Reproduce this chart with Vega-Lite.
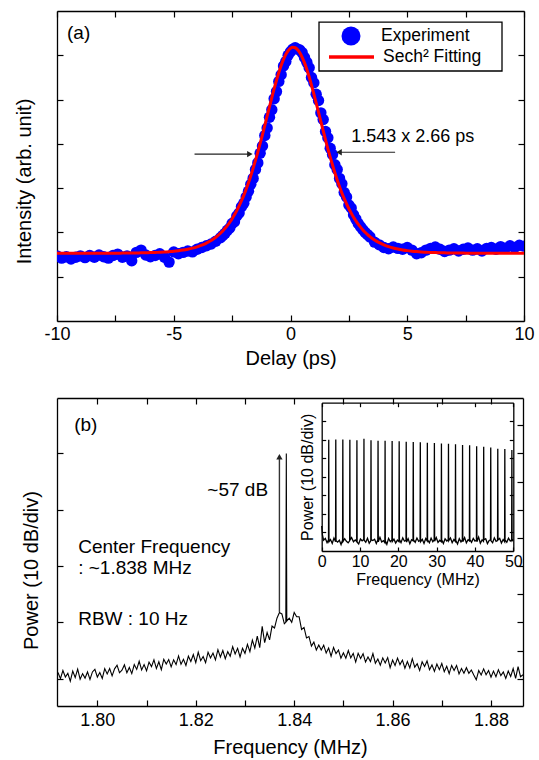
{
  "$schema": "https://vega.github.io/schema/vega-lite/v6.json",
  "padding": {"left": 14, "top": 10, "right": 6, "bottom": 0},
  "spacing": 29,
  "config": {
    "font": "Liberation Sans",
    "view": {"stroke": null},
    "axis": {"grid": false, "domainColor": "#000", "domainWidth": 1.3, "tickColor": "#000", "tickWidth": 1.2, "tickSize": -6, "labelColor": "#000", "titleColor": "#000", "labelFontSize": 18, "titleFontSize": 20, "titleFontWeight": "normal", "labelFlush": false, "labelOverlap": false, "labelFont": "Liberation Sans", "titleFont": "Liberation Sans"}
  },
  "datasets": {
    "pulse": [
      {"t":-10,"e":1.47,"f":1.530},{"t":-9.8,"e":1.42,"f":1.530},{"t":-9.6,"e":1.45,"f":1.530},{"t":-9.4,"e":1.40,"f":1.530},{"t":-9.2,"e":1.44,"f":1.530},{"t":-9.0,"e":1.47,"f":1.530},{"t":-8.8,"e":1.43,"f":1.530},{"t":-8.6,"e":1.48,"f":1.530},{"t":-8.4,"e":1.44,"f":1.530},{"t":-8.2,"e":1.49,"f":1.530},{"t":-8.0,"e":1.45,"f":1.530},{"t":-7.8,"e":1.42,"f":1.530},{"t":-7.6,"e":1.48,"f":1.531},{"t":-7.4,"e":1.51,"f":1.531},{"t":-7.2,"e":1.44,"f":1.533},{"t":-7.0,"e":1.47,"f":1.534},{"t":-6.8,"e":1.36,"f":1.535},{"t":-6.6,"e":1.55,"f":1.537},{"t":-6.4,"e":1.60,"f":1.539},{"t":-6.2,"e":1.49,"f":1.541},{"t":-6.0,"e":1.45,"f":1.544},{"t":-5.8,"e":1.48,"f":1.548},{"t":-5.6,"e":1.52,"f":1.552},{"t":-5.4,"e":1.44,"f":1.558},{"t":-5.2,"e":1.33,"f":1.566},{"t":-5.0,"e":1.56,"f":1.575},{"t":-4.8,"e":1.52,"f":1.587},{"t":-4.6,"e":1.55,"f":1.602},{"t":-4.4,"e":1.58,"f":1.621},{"t":-4.2,"e":1.56,"f":1.645},{"t":-4.0,"e":1.62,"f":1.675},{"t":-3.8,"e":1.66,"f":1.712},{"t":-3.6,"e":1.70,"f":1.760},{"t":-3.4,"e":1.74,"f":1.816},{"t":-3.2,"e":1.80,"f":1.890},
      {"t":-3.0,"e":1.88,"f":1.981},{"t":-2.9,"e":1.93,"f":2.034},{"t":-2.8,"e":1.98,"f":2.095},{"t":-2.7,"e":2.05,"f":2.158},{"t":-2.6,"e":2.10,"f":2.230},{"t":-2.5,"e":2.20,"f":2.310},{"t":-2.4,"e":2.24,"f":2.401},{"t":-2.3,"e":2.37,"f":2.493},{"t":-2.2,"e":2.44,"f":2.598},{"t":-2.1,"e":2.58,"f":2.715},{"t":-2.0,"e":2.66,"f":2.837},{"t":-1.9,"e":2.80,"f":2.976},{"t":-1.8,"e":2.93,"f":3.120},{"t":-1.7,"e":3.09,"f":3.280},{"t":-1.6,"e":3.22,"f":3.451},{"t":-1.5,"e":3.42,"f":3.627},{"t":-1.4,"e":3.57,"f":3.813},{"t":-1.3,"e":3.79,"f":4.011},{"t":-1.2,"e":3.95,"f":4.211},{"t":-1.1,"e":4.19,"f":4.418},{"t":-1.0,"e":4.36,"f":4.629},{"t":-0.9,"e":4.60,"f":4.839},{"t":-0.8,"e":4.77,"f":5.046},{"t":-0.7,"e":5.02,"f":5.247},{"t":-0.6,"e":5.18,"f":5.436},{"t":-0.5,"e":5.41,"f":5.612},{"t":-0.4,"e":5.56,"f":5.771},{"t":-0.3,"e":5.76,"f":5.907},{"t":-0.2,"e":5.86,"f":6.020},{"t":-0.1,"e":6.00,"f":6.103},{"t":0.0,"e":6.08,"f":6.157},{"t":0.1,"e":6.14,"f":6.179},{"t":0.2,"e":6.17,"f":6.170},{"t":0.3,"e":6.14,"f":6.128},{"t":0.4,"e":6.12,"f":6.056},{"t":0.5,"e":6.06,"f":5.955},{"t":0.6,"e":5.95,"f":5.829},{"t":0.7,"e":5.84,"f":5.679},{"t":0.8,"e":5.72,"f":5.509},{"t":0.9,"e":5.50,"f":5.322},{"t":1.0,"e":5.38,"f":5.127},{"t":1.1,"e":5.12,"f":4.919},{"t":1.2,"e":4.98,"f":4.714},{"t":1.3,"e":4.70,"f":4.503},{"t":1.4,"e":4.55,"f":4.299},{"t":1.5,"e":4.28,"f":4.089},{"t":1.6,"e":4.14,"f":3.889},{"t":1.7,"e":3.90,"f":3.701},{"t":1.8,"e":3.76,"f":3.522},{"t":1.9,"e":3.53,"f":3.346},{"t":2.0,"e":3.42,"f":3.185},{"t":2.1,"e":3.22,"f":3.033},{"t":2.2,"e":3.10,"f":2.892},{"t":2.3,"e":2.90,"f":2.764},{"t":2.4,"e":2.80,"f":2.647},{"t":2.5,"e":2.62,"f":2.535},{"t":2.6,"e":2.55,"f":2.436},{"t":2.7,"e":2.40,"f":2.343},{"t":2.8,"e":2.30,"f":2.262},{"t":2.9,"e":2.20,"f":2.186},{"t":3.0,"e":2.13,"f":2.119},{"t":3.1,"e":2.06,"f":2.056},{"t":3.2,"e":2.00,"f":2.002},{"t":3.3,"e":1.95,"f":1.951},{"t":3.4,"e":1.90,"f":1.907},
      {"t":3.6,"e":1.78,"f":1.830},{"t":3.8,"e":1.72,"f":1.769},{"t":4.0,"e":1.66,"f":1.721},{"t":4.2,"e":1.63,"f":1.681},{"t":4.4,"e":1.67,"f":1.649},{"t":4.6,"e":1.64,"f":1.625},{"t":4.8,"e":1.62,"f":1.605},{"t":5.0,"e":1.66,"f":1.589},{"t":5.2,"e":1.60,"f":1.577},{"t":5.4,"e":1.52,"f":1.567},{"t":5.6,"e":1.54,"f":1.559},{"t":5.8,"e":1.60,"f":1.553},{"t":6.0,"e":1.64,"f":1.548},{"t":6.2,"e":1.67,"f":1.544},{"t":6.4,"e":1.62,"f":1.541},{"t":6.6,"e":1.57,"f":1.539},{"t":6.8,"e":1.60,"f":1.537},{"t":7.0,"e":1.63,"f":1.535},{"t":7.2,"e":1.58,"f":1.534},{"t":7.4,"e":1.62,"f":1.533},{"t":7.6,"e":1.65,"f":1.532},{"t":7.8,"e":1.60,"f":1.532},{"t":8.0,"e":1.63,"f":1.532},{"t":8.2,"e":1.58,"f":1.532},{"t":8.4,"e":1.64,"f":1.532},{"t":8.6,"e":1.66,"f":1.532},{"t":8.8,"e":1.62,"f":1.532},{"t":9.0,"e":1.68,"f":1.532},{"t":9.2,"e":1.64,"f":1.532},{"t":9.4,"e":1.70,"f":1.532},{"t":9.6,"e":1.66,"f":1.532},{"t":9.8,"e":1.71,"f":1.532},{"t":10.0,"e":1.69,"f":1.532}
    ],
    "spec": [
      {"f":1.7920,"p":1.22},{"f":1.7925,"p":1.00},{"f":1.7930,"p":1.29},{"f":1.7935,"p":1.06},{"f":1.7940,"p":1.19},{"f":1.7945,"p":0.91},{"f":1.7950,"p":1.27},{"f":1.7955,"p":1.04},{"f":1.7960,"p":1.34},{"f":1.7965,"p":0.98},{"f":1.7970,"p":1.18},{"f":1.7975,"p":1.02},{"f":1.7980,"p":1.24},{"f":1.7985,"p":0.97},{"f":1.7990,"p":1.24},{"f":1.7995,"p":1.33},{"f":1.8000,"p":1.06},
      {"f":1.8005,"p":1.22},{"f":1.8010,"p":1.01},{"f":1.8015,"p":1.36},{"f":1.8020,"p":1.17},{"f":1.8025,"p":1.36},{"f":1.8030,"p":1.10},{"f":1.8035,"p":1.35},{"f":1.8040,"p":1.48},{"f":1.8045,"p":1.21},{"f":1.8050,"p":1.30},{"f":1.8055,"p":1.49},{"f":1.8060,"p":1.21},{"f":1.8065,"p":1.40},{"f":1.8070,"p":1.18},{"f":1.8075,"p":1.50},{"f":1.8080,"p":1.33},{"f":1.8085,"p":1.62},{"f":1.8090,"p":1.31},{"f":1.8095,"p":1.50},{"f":1.8100,"p":1.28},
      {"f":1.8105,"p":1.59},{"f":1.8110,"p":1.43},{"f":1.8115,"p":1.67},{"f":1.8120,"p":1.36},{"f":1.8125,"p":1.60},{"f":1.8130,"p":1.32},{"f":1.8135,"p":1.69},{"f":1.8140,"p":1.52},{"f":1.8145,"p":1.68},{"f":1.8150,"p":1.42},{"f":1.8155,"p":1.67},{"f":1.8160,"p":1.50},{"f":1.8165,"p":1.81},{"f":1.8170,"p":1.51},{"f":1.8175,"p":1.69},{"f":1.8180,"p":1.47},{"f":1.8185,"p":1.80},{"f":1.8190,"p":1.61},{"f":1.8195,"p":1.86},{"f":1.8200,"p":1.57},
      {"f":1.8205,"p":1.94},{"f":1.8210,"p":1.64},{"f":1.8215,"p":1.79},{"f":1.8220,"p":1.57},{"f":1.8225,"p":1.94},{"f":1.8230,"p":1.74},{"f":1.8235,"p":1.91},{"f":1.8240,"p":1.67},{"f":1.8245,"p":2.03},{"f":1.8250,"p":1.77},{"f":1.8255,"p":2.00},{"f":1.8260,"p":1.71},{"f":1.8265,"p":1.96},{"f":1.8270,"p":1.80},{"f":1.8275,"p":2.14},{"f":1.8280,"p":1.88},{"f":1.8285,"p":2.08},{"f":1.8290,"p":1.77},{"f":1.8295,"p":2.08},{"f":1.8300,"p":1.90},
      {"f":1.8305,"p":2.22},{"f":1.8310,"p":1.96},{"f":1.8315,"p":2.37},{"f":1.8320,"p":2.09},{"f":1.8325,"p":2.51},{"f":1.8330,"p":2.10},{"f":1.8335,"p":2.86},{"f":1.8340,"p":2.28},{"f":1.8345,"p":2.64},{"f":1.8350,"p":2.38},{"f":1.8355,"p":2.87},{"f":1.8360,"p":2.80},{"f":1.8365,"p":3.15},{"f":1.8370,"p":3.35},{"f":1.8375,"p":3.30},{"f":1.8380,"p":2.95},{"f":1.8383,"p":3.00},{"f":1.8384,"p":9.00},{"f":1.8385,"p":3.05},{"f":1.8390,"p":3.15},{"f":1.8395,"p":3.00},{"f":1.8400,"p":3.35},{"f":1.8405,"p":3.20},{"f":1.8410,"p":3.20},{"f":1.8415,"p":2.75},{"f":1.8420,"p":2.82},{"f":1.8425,"p":2.45},{"f":1.8430,"p":2.50},{"f":1.8435,"p":2.16},{"f":1.8440,"p":2.30},{"f":1.8445,"p":2.02},{"f":1.8450,"p":2.20},
      {"f":1.8455,"p":2.02},{"f":1.8460,"p":2.19},{"f":1.8465,"p":1.91},{"f":1.8470,"p":2.09},{"f":1.8475,"p":1.80},{"f":1.8480,"p":2.11},{"f":1.8485,"p":1.89},{"f":1.8490,"p":2.02},{"f":1.8495,"p":1.73},{"f":1.8500,"p":1.92},
      {"f":1.8505,"p":1.73},{"f":1.8510,"p":2.00},{"f":1.8515,"p":1.74},{"f":1.8520,"p":1.90},{"f":1.8525,"p":1.59},{"f":1.8530,"p":1.90},{"f":1.8535,"p":1.72},{"f":1.8540,"p":1.89},{"f":1.8545,"p":1.59},{"f":1.8550,"p":1.77},{"f":1.8555,"p":1.61},{"f":1.8560,"p":1.89},{"f":1.8565,"p":1.55},{"f":1.8570,"p":1.70},{"f":1.8575,"p":1.48},{"f":1.8580,"p":1.74},{"f":1.8585,"p":1.56},{"f":1.8590,"p":1.75},{"f":1.8595,"p":1.39},{"f":1.8600,"p":1.66},
      {"f":1.8605,"p":1.47},{"f":1.8610,"p":1.73},{"f":1.8615,"p":1.50},{"f":1.8620,"p":1.66},{"f":1.8625,"p":1.37},{"f":1.8630,"p":1.61},{"f":1.8635,"p":1.38},{"f":1.8640,"p":1.71},{"f":1.8645,"p":1.41},{"f":1.8650,"p":1.53},{"f":1.8655,"p":1.29},{"f":1.8660,"p":1.60},{"f":1.8665,"p":1.43},{"f":1.8670,"p":1.63},{"f":1.8675,"p":1.32},{"f":1.8680,"p":1.49},{"f":1.8685,"p":1.26},{"f":1.8690,"p":1.52},{"f":1.8695,"p":1.32},{"f":1.8700,"p":1.54},
      {"f":1.8705,"p":1.25},{"f":1.8710,"p":1.44},{"f":1.8715,"p":1.18},{"f":1.8720,"p":1.47},{"f":1.8725,"p":1.29},{"f":1.8730,"p":1.47},{"f":1.8735,"p":1.17},{"f":1.8740,"p":1.36},{"f":1.8745,"p":1.19},{"f":1.8750,"p":1.39},{"f":1.8755,"p":1.19},{"f":1.8760,"p":1.31},{"f":1.8765,"p":1.13},{"f":1.8770,"p":0.96},{"f":1.8775,"p":1.29},{"f":1.8780,"p":1.13},{"f":1.8785,"p":1.35},{"f":1.8790,"p":1.14},{"f":1.8795,"p":1.29},{"f":1.8800,"p":1.05},
      {"f":1.8805,"p":1.27},{"f":1.8810,"p":1.07},{"f":1.8815,"p":1.32},{"f":1.8820,"p":1.11},{"f":1.8825,"p":1.24},{"f":1.8830,"p":1.01},{"f":1.8835,"p":1.27},{"f":1.8840,"p":1.08},{"f":1.8845,"p":1.36},{"f":1.8850,"p":1.01},{"f":1.8855,"p":1.43},{"f":1.8860,"p":1.07},{"f":1.8865,"p":1.14}
    ],
    "inset": [
      {"f":0,"p":1.35},{"f":0.2,"p":0.85},{"f":0.5,"p":0.58},{"f":0.95,"p":0.68},{"f":1.4,"p":0.45},
      {"f":1.78,"p":0.6},{"f":1.838,"p":6.0},{"f":1.9,"p":0.5},{"f":2.3,"p":0.62},{"f":2.75,"p":0.41},{"f":3.2,"p":0.70},
      {"f":3.62,"p":0.5},{"f":3.676,"p":6.02},{"f":3.74,"p":0.55},{"f":4.15,"p":0.48},{"f":4.6,"p":0.58},{"f":5.05,"p":0.35},
      {"f":5.45,"p":0.6},{"f":5.514,"p":6.01},{"f":5.58,"p":0.52},{"f":6.0,"p":0.66},{"f":6.45,"p":0.52},{"f":6.9,"p":0.44},
      {"f":7.29,"p":0.55},{"f":7.352,"p":6.0},{"f":7.41,"p":0.6},{"f":7.8,"p":0.72},{"f":8.3,"p":0.50},{"f":8.75,"p":0.60},
      {"f":9.13,"p":0.5},{"f":9.19,"p":5.98},{"f":9.25,"p":0.48},{"f":9.65,"p":0.38},{"f":10.1,"p":0.65},{"f":10.55,"p":0.55},
      {"f":10.97,"p":0.62},{"f":11.028,"p":6.05},{"f":11.09,"p":0.58},{"f":11.5,"p":0.47},{"f":11.95,"p":0.69},{"f":12.4,"p":0.42},
      {"f":12.81,"p":0.55},{"f":12.866,"p":5.97},{"f":12.93,"p":0.6},{"f":13.35,"p":0.57},{"f":13.8,"p":0.63},{"f":14.25,"p":0.40},
      {"f":14.64,"p":0.6},{"f":14.704,"p":5.95},{"f":14.77,"p":0.5},{"f":15.2,"p":0.74},{"f":15.65,"p":0.49},{"f":16.1,"p":0.56},
      {"f":16.48,"p":0.45},{"f":16.542,"p":5.95},{"f":16.6,"p":0.55},{"f":17.0,"p":0.36},{"f":17.45,"p":0.68},{"f":17.9,"p":0.51},
      {"f":18.32,"p":0.6},{"f":18.38,"p":5.93},{"f":18.44,"p":0.52},{"f":18.85,"p":0.64},{"f":19.3,"p":0.43},{"f":19.75,"p":0.59},
      {"f":20.16,"p":0.5},{"f":20.218,"p":5.92},{"f":20.28,"p":0.62},{"f":20.7,"p":0.45},{"f":21.15,"p":0.71},{"f":21.6,"p":0.53},
      {"f":22.0,"p":0.58},{"f":22.056,"p":5.9},{"f":22.12,"p":0.48},{"f":22.55,"p":0.66},{"f":23.0,"p":0.39},{"f":23.45,"p":0.61},
      {"f":23.83,"p":0.55},{"f":23.894,"p":5.88},{"f":23.96,"p":0.6},{"f":24.4,"p":0.47},{"f":24.85,"p":0.70},{"f":25.3,"p":0.52},
      {"f":25.67,"p":0.57},{"f":25.732,"p":5.86},{"f":25.8,"p":0.5},{"f":26.25,"p":0.63},{"f":26.7,"p":0.41},{"f":27.15,"p":0.67},
      {"f":27.51,"p":0.55},{"f":27.57,"p":5.84},{"f":27.63,"p":0.6},{"f":28.1,"p":0.44},{"f":28.55,"p":0.69},{"f":29.0,"p":0.50},
      {"f":29.35,"p":0.6},{"f":29.408,"p":5.82},{"f":29.47,"p":0.52},{"f":29.9,"p":0.73},{"f":30.35,"p":0.46},{"f":30.8,"p":0.58},
      {"f":31.19,"p":0.5},{"f":31.246,"p":5.8},{"f":31.31,"p":0.6},{"f":31.75,"p":0.40},{"f":32.2,"p":0.66},{"f":32.65,"p":0.54},
      {"f":33.02,"p":0.6},{"f":33.084,"p":5.78},{"f":33.15,"p":0.55},{"f":33.6,"p":0.70},{"f":34.05,"p":0.45},{"f":34.5,"p":0.62},
      {"f":34.86,"p":0.52},{"f":34.922,"p":5.76},{"f":34.98,"p":0.58},{"f":35.45,"p":0.38},{"f":35.9,"p":0.67},{"f":36.35,"p":0.49},
      {"f":36.7,"p":0.6},{"f":36.76,"p":5.72},{"f":36.82,"p":0.5},{"f":37.3,"p":0.72},{"f":37.75,"p":0.44},{"f":38.2,"p":0.61},
      {"f":38.54,"p":0.55},{"f":38.598,"p":5.7},{"f":38.66,"p":0.62},{"f":39.1,"p":0.47},{"f":39.55,"p":0.68},{"f":40.0,"p":0.53},
      {"f":40.38,"p":0.58},{"f":40.436,"p":5.65},{"f":40.5,"p":0.5},{"f":40.95,"p":0.75},{"f":41.4,"p":0.42},{"f":41.85,"p":0.60},
      {"f":42.21,"p":0.52},{"f":42.274,"p":5.62},{"f":42.34,"p":0.6},{"f":42.8,"p":0.66},{"f":43.25,"p":0.40},{"f":43.7,"p":0.57},
      {"f":44.05,"p":0.6},{"f":44.112,"p":5.58},{"f":44.18,"p":0.55},{"f":44.6,"p":0.45},{"f":45.05,"p":0.71},{"f":45.5,"p":0.52},
      {"f":45.89,"p":0.56},{"f":45.95,"p":5.52},{"f":46.01,"p":0.6},{"f":46.45,"p":0.68},{"f":46.9,"p":0.43},{"f":47.35,"p":0.62},
      {"f":47.73,"p":0.5},{"f":47.788,"p":5.5},{"f":47.85,"p":0.58},{"f":48.3,"p":0.47},{"f":48.75,"p":0.69},{"f":49.2,"p":0.54},
      {"f":49.57,"p":0.6},{"f":49.626,"p":5.45},{"f":49.69,"p":0.55},{"f":50.0,"p":0.62}
    ]
  },
  "vconcat": [
    {
      "width": 467,
      "height": 310,
      "resolve": {"scale": {"x": "independent", "y": "independent"}},
      "layer": [
        {
          "layer": [
            {
              "data": {"name": "pulse"},
              "mark": {"type": "point", "filled": true, "size": 130, "opacity": 1, "clip": true, "color": "#0000ff"},
              "encoding": {
                "x": {"field": "t", "type": "quantitative", "scale": {"domain": [-10, 10], "nice": false, "zero": false},
                  "axis": {"values": [-10, -7.5, -5, -2.5, 0, 2.5, 5, 7.5, 10], "labelExpr": "datum.value % 5 === 0 ? toString(datum.value) : ''", "title": "Delay (ps)", "labelPadding": 10.5, "titlePadding": 4.5}},
                "y": {"field": "e", "type": "quantitative", "scale": {"domain": [0, 7], "nice": false, "zero": false},
                  "axis": {"values": [1, 2, 3, 4, 5, 6], "labels": false, "title": "Intensity (arb. unit)", "titlePadding": 22, "titleY": 170}}
              }
            },
            {
              "data": {"name": "pulse"},
              "mark": {"type": "line", "strokeWidth": 3, "interpolate": "monotone", "clip": true, "color": "#ff0000"},
              "encoding": {
                "x": {"field": "t", "type": "quantitative"},
                "y": {"field": "f", "type": "quantitative"}
              }
            },
            {
              "data": {"values": [{}]},
              "mark": {"type": "rule", "color": "#222", "strokeWidth": 1.2},
              "encoding": {"x": {"datum": -4.11}, "x2": {"datum": -1.74}, "y": {"datum": 3.77}}
            },
            {
              "data": {"values": [{}]},
              "mark": {"type": "point", "shape": "triangle-right", "filled": true, "color": "#222", "size": 40, "opacity": 1},
              "encoding": {"x": {"datum": -1.74}, "y": {"datum": 3.77}}
            },
            {
              "data": {"values": [{}]},
              "mark": {"type": "rule", "color": "#222", "strokeWidth": 1.2},
              "encoding": {"x": {"datum": 4.48}, "x2": {"datum": 2.08}, "y": {"datum": 3.81}}
            },
            {
              "data": {"values": [{}]},
              "mark": {"type": "point", "shape": "triangle-left", "filled": true, "color": "#222", "size": 40, "opacity": 1},
              "encoding": {"x": {"datum": 2.08}, "y": {"datum": 3.81}}
            },
            {
              "data": {"values": [{}]},
              "mark": {"type": "text", "align": "left", "baseline": "middle", "fontSize": 18, "color": "#000"},
              "encoding": {"x": {"datum": 2.6}, "y": {"datum": 4.15}, "text": {"value": "1.543 x 2.66 ps"}}
            },
            {
              "data": {"values": [{}]},
              "mark": {"type": "text", "align": "left", "baseline": "middle", "fontSize": 19, "color": "#000"},
              "encoding": {"x": {"datum": -9.57}, "y": {"datum": 6.5}, "text": {"value": "(a)"}}
            },
            {
              "data": {"values": [{}]},
              "mark": {"type": "rect", "fill": "#ffffff", "stroke": "#000", "strokeWidth": 1.3},
              "encoding": {"x": {"datum": 1.221}, "x2": {"datum": 9.058}, "y": {"datum": 6.751}, "y2": {"datum": 5.645}}
            },
            {
              "data": {"values": [{}]},
              "mark": {"type": "point", "shape": "circle", "filled": true, "color": "#0000ff", "size": 361, "opacity": 1},
              "encoding": {"x": {"datum": 2.591}, "y": {"datum": 6.435}}
            },
            {
              "data": {"values": [{}]},
              "mark": {"type": "rule", "color": "#ff0000", "strokeWidth": 3.5},
              "encoding": {"x": {"datum": 1.649}, "x2": {"datum": 3.576}, "y": {"datum": 5.961}}
            },
            {
              "data": {"values": [{}]},
              "mark": {"type": "text", "align": "left", "baseline": "middle", "fontSize": 17.5, "color": "#000"},
              "encoding": {"x": {"datum": 3.876}, "y": {"datum": 6.435}, "text": {"value": "Experiment"}}
            },
            {
              "data": {"values": [{}]},
              "mark": {"type": "text", "align": "left", "baseline": "middle", "fontSize": 17.5, "color": "#000"},
              "encoding": {"x": {"datum": 3.961}, "y": {"datum": 5.961}, "text": {"value": "Sech² Fitting"}}
            }
          ]
        },
        {
          "data": {"values": [{}]},
          "mark": {"type": "point", "opacity": 0},
          "encoding": {
            "x": {"datum": 0, "type": "quantitative", "scale": {"domain": [-10, 10], "nice": false, "zero": false},
              "axis": {"orient": "top", "values": [-10, -7.5, -5, -2.5, 0, 2.5, 5, 7.5, 10], "labels": false, "title": null}},
            "y": {"datum": 3, "type": "quantitative", "scale": {"domain": [0, 7], "nice": false, "zero": false},
              "axis": {"orient": "right", "values": [1, 2, 3, 4, 5, 6], "labels": false, "title": null}}
          }
        }
      ]
    },
    {
      "width": 466,
      "height": 308,
      "resolve": {"scale": {"x": "independent", "y": "independent"}},
      "layer": [
        {
          "layer": [
            {
              "data": {"name": "spec"},
              "mark": {"type": "line", "color": "#000", "strokeWidth": 1.1, "clip": true},
              "encoding": {
                "x": {"field": "f", "type": "quantitative", "scale": {"domain": [1.7918, 1.8865], "nice": false, "zero": false},
                  "axis": {"values": [1.80, 1.81, 1.82, 1.83, 1.84, 1.85, 1.86, 1.87, 1.88], "labelExpr": "round(datum.value * 100) % 2 === 0 ? format(datum.value, '.2f') : ''", "title": "Frequency (MHz)", "labelPadding": 11.5, "titlePadding": 8}},
                "y": {"field": "p", "type": "quantitative", "scale": {"domain": [0.03, 10.97], "nice": false, "zero": false},
                  "axis": {"values": [1, 2, 3, 4, 5, 6, 7, 8, 9, 10], "labels": false, "title": "Power (10 dB/div)", "titlePadding": 15, "titleY": 172}}
              }
            },
            {
              "data": {"values": [{}]},
              "mark": {"type": "rule", "color": "#333", "strokeWidth": 1.4},
              "encoding": {"x": {"datum": 1.837}, "y": {"datum": 3.37}, "y2": {"datum": 8.8}}
            },
            {
              "data": {"values": [{}]},
              "mark": {"type": "point", "shape": "triangle-up", "filled": true, "color": "#222", "size": 40, "opacity": 1},
              "encoding": {"x": {"datum": 1.837}, "y": {"datum": 8.88}}
            },
            {
              "data": {"values": [{}]},
              "mark": {"type": "text", "align": "left", "baseline": "middle", "fontSize": 19, "color": "#000"},
              "encoding": {"x": {"datum": 1.7953}, "y": {"datum": 10.0}, "text": {"value": "(b)"}}
            },
            {
              "data": {"values": [{}]},
              "mark": {"type": "text", "align": "right", "baseline": "middle", "fontSize": 19, "color": "#000"},
              "encoding": {"x": {"datum": 1.8347}, "y": {"datum": 7.69}, "text": {"value": "~57 dB"}}
            },
            {
              "data": {"values": [{}]},
              "mark": {"type": "text", "align": "left", "baseline": "middle", "fontSize": 19, "color": "#000"},
              "encoding": {"x": {"datum": 1.7961}, "y": {"datum": 5.68}, "text": {"value": "Center Frequency"}}
            },
            {
              "data": {"values": [{}]},
              "mark": {"type": "text", "align": "left", "baseline": "middle", "fontSize": 19, "color": "#000"},
              "encoding": {"x": {"datum": 1.7961}, "y": {"datum": 4.93}, "text": {"value": ": ~1.838 MHz"}}
            },
            {
              "data": {"values": [{}]},
              "mark": {"type": "text", "align": "left", "baseline": "middle", "fontSize": 19, "color": "#000"},
              "encoding": {"x": {"datum": 1.7961}, "y": {"datum": 3.13}, "text": {"value": "RBW : 10 Hz"}}
            }
          ]
        },
        {
          "data": {"values": [{}]},
          "mark": {"type": "point", "opacity": 0},
          "encoding": {
            "x": {"datum": 1.84, "type": "quantitative", "scale": {"domain": [1.7918, 1.8865], "nice": false, "zero": false},
              "axis": {"orient": "top", "values": [1.80, 1.81, 1.82, 1.83, 1.84, 1.85, 1.86, 1.87, 1.88], "labels": false, "title": null}},
            "y": {"datum": 5, "type": "quantitative", "scale": {"domain": [0.03, 10.97], "nice": false, "zero": false},
              "axis": {"orient": "right", "values": [1, 2, 3, 4, 5, 6, 7, 8, 9, 10], "labels": false, "title": null}}
          }
        },
        {
          "data": {"name": "inset"},
          "mark": {"type": "line", "color": "#000", "strokeWidth": 1.3, "clip": false},
          "encoding": {
            "x": {"field": "f", "type": "quantitative", "scale": {"domain": [0, 50], "nice": false, "zero": false, "range": [264.7, 456.3]},
              "axis": {"offset": -155, "values": [0, 10, 20, 30, 40, 50], "tickSize": -4, "labelFontSize": 16, "labelPadding": 6.5, "title": "Frequency (MHz)", "titleFontSize": 16, "titlePadding": 2}},
            "y": {"field": "p", "type": "quantitative", "scale": {"domain": [0, 8], "nice": false, "zero": false, "range": [153, 4.7]},
              "axis": {"offset": -264.7, "values": [1, 2, 3, 4, 5, 6, 7], "tickSize": -4, "labels": false, "title": "Power (10 dB/div)", "titleFontSize": 16, "titlePadding": 6}}
          }
        },
        {
          "data": {"values": [{}]},
          "mark": {"type": "point", "opacity": 0},
          "encoding": {
            "x": {"datum": 20, "type": "quantitative", "scale": {"domain": [0, 50], "nice": false, "zero": false, "range": [264.7, 456.3]},
              "axis": {"orient": "top", "offset": -4.7, "values": [0, 10, 20, 30, 40, 50], "tickSize": -4, "labels": false, "title": null}},
            "y": {"datum": 3, "type": "quantitative", "scale": {"domain": [0, 8], "nice": false, "zero": false, "range": [153, 4.7]},
              "axis": {"orient": "right", "offset": -9.7, "values": [1, 2, 3, 4, 5, 6, 7], "tickSize": -4, "labels": false, "title": null}}
          }
        }
      ]
    }
  ]
}
